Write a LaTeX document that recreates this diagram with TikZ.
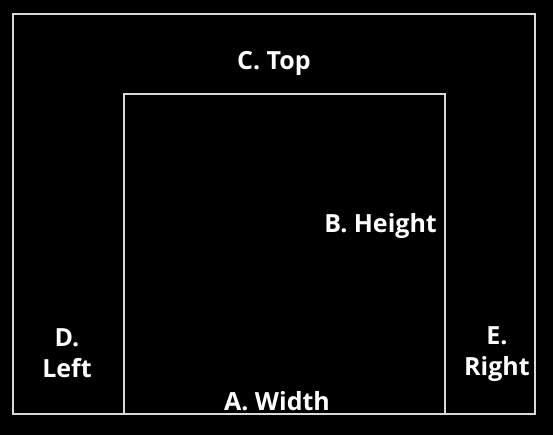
\documentclass[tikz,border=0pt]{standalone}
\usepackage{fontspec}
\setmainfont{Open Sans}
\usetikzlibrary{positioning}

\begin{document}
\begin{tikzpicture}[
  x=1pt, y=-1pt,
  frame/.style={draw=white!85!black, line width=2.6pt},
  lbl/.style={text=white, font=\fontsize{25}{31}\selectfont\bfseries, align=center, inner sep=0pt},
]

% ---- background and bounding box --------------------------------
\fill[black] (0,0) rectangle (553,435);
\useasboundingbox (0,0) rectangle (553,435);

% ---- outer and inner frames -------------------------------------
\coordinate (outerNW) at (13,14);
\coordinate (outerSE) at (535,414);
\coordinate (innerNW) at (124,94);
\coordinate (innerSE) at (445,414);
\draw[frame] (outerNW) rectangle (outerSE);
\draw[frame] (innerNW |- innerSE) -- (innerNW) -- (innerSE |- innerNW) -- (innerSE);

% ---- labels -----------------------------------------------------
\node[lbl] (top)    at (274,63)  {C. Top};
\node[lbl, anchor=east] (height) at (437,226) {B. Height};
\node[lbl] (width)  at (277,401) {A. Width};
\node[lbl] (left)   at (67,353)  {D.\\Left};
\node[lbl] (right)  at (497,354) {E.\\Right};

\end{tikzpicture}
\end{document}
